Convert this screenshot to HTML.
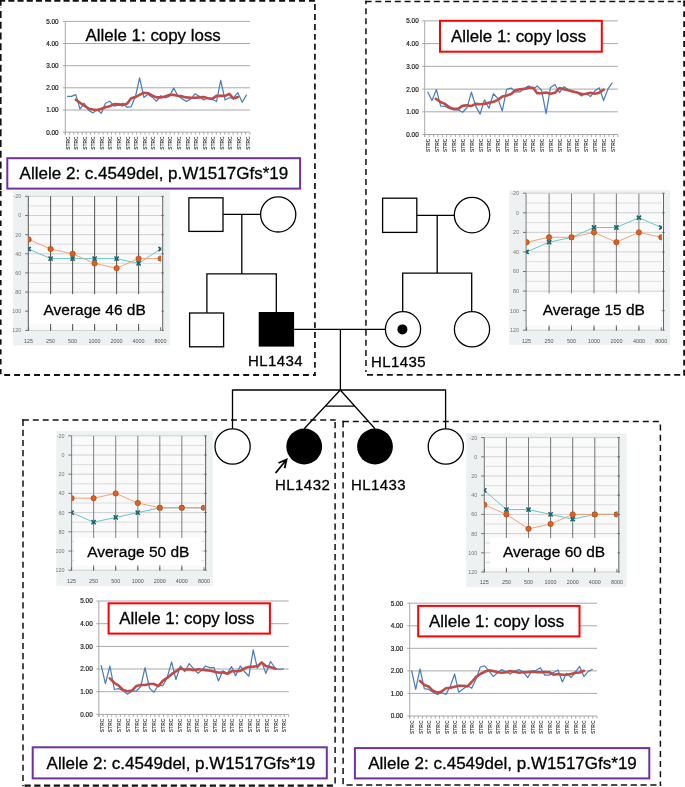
<!DOCTYPE html>
<html><head><meta charset="utf-8"><title>Pedigree</title>
<style>html,body{margin:0;padding:0;background:#fff;}svg{display:block;}</style></head><body>
<svg width="685" height="787" viewBox="0 0 685 787" style="will-change:transform">
<rect width="685" height="787" fill="#fff"/>
<g>
<rect x="13.1" y="191.2" width="156.8" height="154.4" fill="#eef1f2"/>
<rect x="28.3" y="196.2" width="134.4" height="134.0" fill="#fafafa"/>
<line x1="28.3" y1="196.3" x2="161.1" y2="196.3" stroke="#cfcfcf" stroke-width="1"/>
<line x1="28.3" y1="205.9" x2="161.1" y2="205.9" stroke="#dcdcdc" stroke-width="1"/>
<line x1="28.3" y1="215.5" x2="161.1" y2="215.5" stroke="#cfcfcf" stroke-width="1"/>
<line x1="28.3" y1="225.1" x2="161.1" y2="225.1" stroke="#dcdcdc" stroke-width="1"/>
<line x1="28.3" y1="234.7" x2="161.1" y2="234.7" stroke="#cfcfcf" stroke-width="1"/>
<line x1="28.3" y1="244.2" x2="161.1" y2="244.2" stroke="#dcdcdc" stroke-width="1"/>
<line x1="28.3" y1="253.8" x2="161.1" y2="253.8" stroke="#cfcfcf" stroke-width="1"/>
<line x1="28.3" y1="263.4" x2="161.1" y2="263.4" stroke="#dcdcdc" stroke-width="1"/>
<line x1="28.3" y1="272.9" x2="161.1" y2="272.9" stroke="#cfcfcf" stroke-width="1"/>
<line x1="28.3" y1="282.5" x2="161.1" y2="282.5" stroke="#dcdcdc" stroke-width="1"/>
<line x1="28.3" y1="292.1" x2="161.1" y2="292.1" stroke="#cfcfcf" stroke-width="1"/>
<line x1="28.3" y1="301.7" x2="161.1" y2="301.7" stroke="#dcdcdc" stroke-width="1"/>
<line x1="28.3" y1="311.2" x2="161.1" y2="311.2" stroke="#cfcfcf" stroke-width="1"/>
<line x1="28.3" y1="320.8" x2="161.1" y2="320.8" stroke="#dcdcdc" stroke-width="1"/>
<line x1="28.3" y1="330.4" x2="161.1" y2="330.4" stroke="#cfcfcf" stroke-width="1"/>
<line x1="28.3" y1="196.2" x2="28.3" y2="330.2" stroke="#5c5c5c" stroke-width="1.05"/>
<line x1="50.6" y1="196.2" x2="50.6" y2="330.2" stroke="#5c5c5c" stroke-width="1.05"/>
<line x1="72.6" y1="196.2" x2="72.6" y2="330.2" stroke="#5c5c5c" stroke-width="1.05"/>
<line x1="94.6" y1="196.2" x2="94.6" y2="330.2" stroke="#5c5c5c" stroke-width="1.05"/>
<line x1="116.6" y1="196.2" x2="116.6" y2="330.2" stroke="#5c5c5c" stroke-width="1.05"/>
<line x1="138.6" y1="196.2" x2="138.6" y2="330.2" stroke="#5c5c5c" stroke-width="1.05"/>
<line x1="162.7" y1="196.2" x2="162.7" y2="330.2" stroke="#666" stroke-width="1.05"/>
<line x1="25.1" y1="196.3" x2="28.3" y2="196.3" stroke="#555" stroke-width="0.8"/>
<line x1="161.2" y1="196.3" x2="163.9" y2="196.3" stroke="#555" stroke-width="0.8"/>
<text x="21.3" y="198.2" text-anchor="end" font-family="Liberation Sans, sans-serif" font-size="5.4" fill="#777">-20</text>
<line x1="25.1" y1="215.5" x2="28.3" y2="215.5" stroke="#555" stroke-width="0.8"/>
<line x1="161.2" y1="215.5" x2="163.9" y2="215.5" stroke="#555" stroke-width="0.8"/>
<text x="21.3" y="217.4" text-anchor="end" font-family="Liberation Sans, sans-serif" font-size="5.4" fill="#777">0</text>
<line x1="25.1" y1="234.7" x2="28.3" y2="234.7" stroke="#555" stroke-width="0.8"/>
<line x1="161.2" y1="234.7" x2="163.9" y2="234.7" stroke="#555" stroke-width="0.8"/>
<text x="21.3" y="236.6" text-anchor="end" font-family="Liberation Sans, sans-serif" font-size="5.4" fill="#777">20</text>
<line x1="25.1" y1="253.8" x2="28.3" y2="253.8" stroke="#555" stroke-width="0.8"/>
<line x1="161.2" y1="253.8" x2="163.9" y2="253.8" stroke="#555" stroke-width="0.8"/>
<text x="21.3" y="255.7" text-anchor="end" font-family="Liberation Sans, sans-serif" font-size="5.4" fill="#777">40</text>
<line x1="25.1" y1="272.9" x2="28.3" y2="272.9" stroke="#555" stroke-width="0.8"/>
<line x1="161.2" y1="272.9" x2="163.9" y2="272.9" stroke="#555" stroke-width="0.8"/>
<text x="21.3" y="274.8" text-anchor="end" font-family="Liberation Sans, sans-serif" font-size="5.4" fill="#777">60</text>
<line x1="25.1" y1="292.1" x2="28.3" y2="292.1" stroke="#555" stroke-width="0.8"/>
<line x1="161.2" y1="292.1" x2="163.9" y2="292.1" stroke="#555" stroke-width="0.8"/>
<text x="21.3" y="294.0" text-anchor="end" font-family="Liberation Sans, sans-serif" font-size="5.4" fill="#777">80</text>
<line x1="25.1" y1="311.2" x2="28.3" y2="311.2" stroke="#555" stroke-width="0.8"/>
<line x1="161.2" y1="311.2" x2="163.9" y2="311.2" stroke="#555" stroke-width="0.8"/>
<text x="21.3" y="313.1" text-anchor="end" font-family="Liberation Sans, sans-serif" font-size="5.4" fill="#777">100</text>
<line x1="25.1" y1="330.4" x2="28.3" y2="330.4" stroke="#555" stroke-width="0.8"/>
<line x1="161.2" y1="330.4" x2="163.9" y2="330.4" stroke="#555" stroke-width="0.8"/>
<text x="21.3" y="332.3" text-anchor="end" font-family="Liberation Sans, sans-serif" font-size="5.4" fill="#777">120</text>
<clipPath id="clipa1"><rect x="28.3" y="196.2" width="132.9" height="134.0"/></clipPath>
<g clip-path="url(#clipa1)">
<polyline points="28.6,249.0 50.6,258.6 72.6,258.6 94.6,258.6 116.6,258.6 138.6,263.4 160.6,249.0" fill="none" stroke="#58c0c6" stroke-width="0.9"/>
<polyline points="28.6,239.4 50.6,249.0 72.6,253.8 94.6,263.4 116.6,268.2 138.6,258.6 160.6,258.6" fill="none" stroke="#eb9a70" stroke-width="0.9"/>
<path d="M26.5 246.9L30.7 251.1M30.7 246.9L26.5 251.1" stroke="#17626c" stroke-width="1.6" fill="none"/>
<rect x="27.3" y="247.7" width="2.6" height="2.6" fill="#1b6a74"/>
<path d="M48.5 256.5L52.7 260.7M52.7 256.5L48.5 260.7" stroke="#17626c" stroke-width="1.6" fill="none"/>
<rect x="49.3" y="257.3" width="2.6" height="2.6" fill="#1b6a74"/>
<path d="M70.5 256.5L74.7 260.7M74.7 256.5L70.5 260.7" stroke="#17626c" stroke-width="1.6" fill="none"/>
<rect x="71.3" y="257.3" width="2.6" height="2.6" fill="#1b6a74"/>
<path d="M92.5 256.5L96.7 260.7M96.7 256.5L92.5 260.7" stroke="#17626c" stroke-width="1.6" fill="none"/>
<rect x="93.3" y="257.3" width="2.6" height="2.6" fill="#1b6a74"/>
<path d="M114.5 256.5L118.7 260.7M118.7 256.5L114.5 260.7" stroke="#17626c" stroke-width="1.6" fill="none"/>
<rect x="115.3" y="257.3" width="2.6" height="2.6" fill="#1b6a74"/>
<path d="M136.5 261.3L140.7 265.5M140.7 261.3L136.5 265.5" stroke="#17626c" stroke-width="1.6" fill="none"/>
<rect x="137.3" y="262.1" width="2.6" height="2.6" fill="#1b6a74"/>
<path d="M158.5 246.9L162.7 251.1M162.7 246.9L158.5 251.1" stroke="#17626c" stroke-width="1.6" fill="none"/>
<rect x="159.3" y="247.7" width="2.6" height="2.6" fill="#1b6a74"/>
<circle cx="28.6" cy="239.4" r="2.7" fill="#e2601a" stroke="#8a3a0c" stroke-width="0.5"/>
<circle cx="50.6" cy="249.0" r="2.7" fill="#e2601a" stroke="#8a3a0c" stroke-width="0.5"/>
<circle cx="72.6" cy="253.8" r="2.7" fill="#e2601a" stroke="#8a3a0c" stroke-width="0.5"/>
<circle cx="94.6" cy="263.4" r="2.7" fill="#e2601a" stroke="#8a3a0c" stroke-width="0.5"/>
<circle cx="116.6" cy="268.2" r="2.7" fill="#e2601a" stroke="#8a3a0c" stroke-width="0.5"/>
<circle cx="138.6" cy="258.6" r="2.7" fill="#e2601a" stroke="#8a3a0c" stroke-width="0.5"/>
<circle cx="160.6" cy="258.6" r="2.7" fill="#e2601a" stroke="#8a3a0c" stroke-width="0.5"/>
</g>
<rect x="29.0" y="294.2" width="132.4" height="29.8" fill="#fff"/>
<line x1="28.6" y1="327.2" x2="28.6" y2="330.7" stroke="#555" stroke-width="0.8"/>
<line x1="50.6" y1="327.2" x2="50.6" y2="330.7" stroke="#555" stroke-width="0.8"/>
<line x1="72.6" y1="327.2" x2="72.6" y2="330.7" stroke="#555" stroke-width="0.8"/>
<line x1="94.6" y1="327.2" x2="94.6" y2="330.7" stroke="#555" stroke-width="0.8"/>
<line x1="116.6" y1="327.2" x2="116.6" y2="330.7" stroke="#555" stroke-width="0.8"/>
<line x1="138.6" y1="327.2" x2="138.6" y2="330.7" stroke="#555" stroke-width="0.8"/>
<line x1="160.6" y1="327.2" x2="160.6" y2="330.7" stroke="#555" stroke-width="0.8"/>
<text x="28.6" y="343.1" text-anchor="middle" font-family="Liberation Sans, sans-serif" font-size="5.4" fill="#555">125</text>
<text x="50.6" y="343.1" text-anchor="middle" font-family="Liberation Sans, sans-serif" font-size="5.4" fill="#555">250</text>
<text x="72.6" y="343.1" text-anchor="middle" font-family="Liberation Sans, sans-serif" font-size="5.4" fill="#555">500</text>
<text x="94.6" y="343.1" text-anchor="middle" font-family="Liberation Sans, sans-serif" font-size="5.4" fill="#555">1000</text>
<text x="116.6" y="343.1" text-anchor="middle" font-family="Liberation Sans, sans-serif" font-size="5.4" fill="#555">2000</text>
<text x="138.6" y="343.1" text-anchor="middle" font-family="Liberation Sans, sans-serif" font-size="5.4" fill="#555">4000</text>
<text x="160.6" y="343.1" text-anchor="middle" font-family="Liberation Sans, sans-serif" font-size="5.4" fill="#555">8000</text>
<text x="43.5" y="314.6" font-family="Liberation Sans, sans-serif" font-size="15.5" fill="#000" stroke="#000" stroke-width="0.28">Average 46 dB</text>
</g>
<g>
<rect x="508.9" y="190.2" width="161.2" height="154.8" fill="#eef1f2"/>
<rect x="526.1" y="193.4" width="137.4" height="136.8" fill="#fafafa"/>
<line x1="526.1" y1="193.2" x2="661.8" y2="193.2" stroke="#cfcfcf" stroke-width="1"/>
<line x1="526.1" y1="203.0" x2="661.8" y2="203.0" stroke="#dcdcdc" stroke-width="1"/>
<line x1="526.1" y1="212.8" x2="661.8" y2="212.8" stroke="#cfcfcf" stroke-width="1"/>
<line x1="526.1" y1="222.6" x2="661.8" y2="222.6" stroke="#dcdcdc" stroke-width="1"/>
<line x1="526.1" y1="232.4" x2="661.8" y2="232.4" stroke="#cfcfcf" stroke-width="1"/>
<line x1="526.1" y1="242.2" x2="661.8" y2="242.2" stroke="#dcdcdc" stroke-width="1"/>
<line x1="526.1" y1="251.9" x2="661.8" y2="251.9" stroke="#cfcfcf" stroke-width="1"/>
<line x1="526.1" y1="261.7" x2="661.8" y2="261.7" stroke="#dcdcdc" stroke-width="1"/>
<line x1="526.1" y1="271.5" x2="661.8" y2="271.5" stroke="#cfcfcf" stroke-width="1"/>
<line x1="526.1" y1="281.3" x2="661.8" y2="281.3" stroke="#dcdcdc" stroke-width="1"/>
<line x1="526.1" y1="291.1" x2="661.8" y2="291.1" stroke="#cfcfcf" stroke-width="1"/>
<line x1="526.1" y1="300.9" x2="661.8" y2="300.9" stroke="#dcdcdc" stroke-width="1"/>
<line x1="526.1" y1="310.7" x2="661.8" y2="310.7" stroke="#cfcfcf" stroke-width="1"/>
<line x1="526.1" y1="320.4" x2="661.8" y2="320.4" stroke="#dcdcdc" stroke-width="1"/>
<line x1="526.1" y1="330.2" x2="661.8" y2="330.2" stroke="#cfcfcf" stroke-width="1"/>
<line x1="526.1" y1="193.4" x2="526.1" y2="330.2" stroke="#828282" stroke-width="1.05"/>
<line x1="549.1" y1="193.4" x2="549.1" y2="330.2" stroke="#828282" stroke-width="1.05"/>
<line x1="571.5" y1="193.4" x2="571.5" y2="330.2" stroke="#828282" stroke-width="1.05"/>
<line x1="594.0" y1="193.4" x2="594.0" y2="330.2" stroke="#828282" stroke-width="1.05"/>
<line x1="616.4" y1="193.4" x2="616.4" y2="330.2" stroke="#828282" stroke-width="1.05"/>
<line x1="638.9" y1="193.4" x2="638.9" y2="330.2" stroke="#828282" stroke-width="1.05"/>
<line x1="663.5" y1="193.4" x2="663.5" y2="330.2" stroke="#666" stroke-width="1.05"/>
<line x1="522.9" y1="193.2" x2="526.1" y2="193.2" stroke="#555" stroke-width="0.8"/>
<line x1="662.0" y1="193.2" x2="664.7" y2="193.2" stroke="#555" stroke-width="0.8"/>
<text x="519.1" y="195.1" text-anchor="end" font-family="Liberation Sans, sans-serif" font-size="5.4" fill="#777">-20</text>
<line x1="522.9" y1="212.8" x2="526.1" y2="212.8" stroke="#555" stroke-width="0.8"/>
<line x1="662.0" y1="212.8" x2="664.7" y2="212.8" stroke="#555" stroke-width="0.8"/>
<text x="519.1" y="214.7" text-anchor="end" font-family="Liberation Sans, sans-serif" font-size="5.4" fill="#777">0</text>
<line x1="522.9" y1="232.4" x2="526.1" y2="232.4" stroke="#555" stroke-width="0.8"/>
<line x1="662.0" y1="232.4" x2="664.7" y2="232.4" stroke="#555" stroke-width="0.8"/>
<text x="519.1" y="234.3" text-anchor="end" font-family="Liberation Sans, sans-serif" font-size="5.4" fill="#777">20</text>
<line x1="522.9" y1="251.9" x2="526.1" y2="251.9" stroke="#555" stroke-width="0.8"/>
<line x1="662.0" y1="251.9" x2="664.7" y2="251.9" stroke="#555" stroke-width="0.8"/>
<text x="519.1" y="253.8" text-anchor="end" font-family="Liberation Sans, sans-serif" font-size="5.4" fill="#777">40</text>
<line x1="522.9" y1="271.5" x2="526.1" y2="271.5" stroke="#555" stroke-width="0.8"/>
<line x1="662.0" y1="271.5" x2="664.7" y2="271.5" stroke="#555" stroke-width="0.8"/>
<text x="519.1" y="273.4" text-anchor="end" font-family="Liberation Sans, sans-serif" font-size="5.4" fill="#777">60</text>
<line x1="522.9" y1="291.1" x2="526.1" y2="291.1" stroke="#555" stroke-width="0.8"/>
<line x1="662.0" y1="291.1" x2="664.7" y2="291.1" stroke="#555" stroke-width="0.8"/>
<text x="519.1" y="293.0" text-anchor="end" font-family="Liberation Sans, sans-serif" font-size="5.4" fill="#777">80</text>
<line x1="522.9" y1="310.7" x2="526.1" y2="310.7" stroke="#555" stroke-width="0.8"/>
<line x1="662.0" y1="310.7" x2="664.7" y2="310.7" stroke="#555" stroke-width="0.8"/>
<text x="519.1" y="312.6" text-anchor="end" font-family="Liberation Sans, sans-serif" font-size="5.4" fill="#777">100</text>
<line x1="522.9" y1="330.2" x2="526.1" y2="330.2" stroke="#555" stroke-width="0.8"/>
<line x1="662.0" y1="330.2" x2="664.7" y2="330.2" stroke="#555" stroke-width="0.8"/>
<text x="519.1" y="332.1" text-anchor="end" font-family="Liberation Sans, sans-serif" font-size="5.4" fill="#777">120</text>
<clipPath id="clipa2"><rect x="526.1" y="193.4" width="135.8" height="136.8"/></clipPath>
<g clip-path="url(#clipa2)">
<polyline points="526.6,251.9 549.1,242.2 571.5,237.3 594.0,227.5 616.4,227.5 638.9,217.7 661.3,227.5" fill="none" stroke="#58c0c6" stroke-width="0.9"/>
<polyline points="526.6,242.2 549.1,237.3 571.5,237.3 594.0,232.4 616.4,242.2 638.9,232.4 661.3,237.3" fill="none" stroke="#eb9a70" stroke-width="0.9"/>
<path d="M524.5 249.8L528.7 254.0M528.7 249.8L524.5 254.0" stroke="#17626c" stroke-width="1.6" fill="none"/>
<rect x="525.3" y="250.6" width="2.6" height="2.6" fill="#1b6a74"/>
<path d="M547.0 240.1L551.2 244.3M551.2 240.1L547.0 244.3" stroke="#17626c" stroke-width="1.6" fill="none"/>
<rect x="547.8" y="240.9" width="2.6" height="2.6" fill="#1b6a74"/>
<path d="M569.4 235.2L573.6 239.4M573.6 235.2L569.4 239.4" stroke="#17626c" stroke-width="1.6" fill="none"/>
<rect x="570.2" y="236.0" width="2.6" height="2.6" fill="#1b6a74"/>
<path d="M591.9 225.4L596.1 229.6M596.1 225.4L591.9 229.6" stroke="#17626c" stroke-width="1.6" fill="none"/>
<rect x="592.7" y="226.2" width="2.6" height="2.6" fill="#1b6a74"/>
<path d="M614.3 225.4L618.5 229.6M618.5 225.4L614.3 229.6" stroke="#17626c" stroke-width="1.6" fill="none"/>
<rect x="615.1" y="226.2" width="2.6" height="2.6" fill="#1b6a74"/>
<path d="M636.8 215.6L641.0 219.8M641.0 215.6L636.8 219.8" stroke="#17626c" stroke-width="1.6" fill="none"/>
<rect x="637.6" y="216.4" width="2.6" height="2.6" fill="#1b6a74"/>
<path d="M659.2 225.4L663.4 229.6M663.4 225.4L659.2 229.6" stroke="#17626c" stroke-width="1.6" fill="none"/>
<rect x="660.0" y="226.2" width="2.6" height="2.6" fill="#1b6a74"/>
<circle cx="526.6" cy="242.2" r="2.7" fill="#e2601a" stroke="#8a3a0c" stroke-width="0.5"/>
<circle cx="549.1" cy="237.3" r="2.7" fill="#e2601a" stroke="#8a3a0c" stroke-width="0.5"/>
<circle cx="571.5" cy="237.3" r="2.7" fill="#e2601a" stroke="#8a3a0c" stroke-width="0.5"/>
<circle cx="594.0" cy="232.4" r="2.7" fill="#e2601a" stroke="#8a3a0c" stroke-width="0.5"/>
<circle cx="616.4" cy="242.2" r="2.7" fill="#e2601a" stroke="#8a3a0c" stroke-width="0.5"/>
<circle cx="638.9" cy="232.4" r="2.7" fill="#e2601a" stroke="#8a3a0c" stroke-width="0.5"/>
<circle cx="661.3" cy="237.3" r="2.7" fill="#e2601a" stroke="#8a3a0c" stroke-width="0.5"/>
</g>
<rect x="527.0" y="293.5" width="134.3" height="31.7" fill="#fff"/>
<line x1="526.6" y1="327.2" x2="526.6" y2="330.7" stroke="#555" stroke-width="0.8"/>
<line x1="549.1" y1="327.2" x2="549.1" y2="330.7" stroke="#555" stroke-width="0.8"/>
<line x1="571.5" y1="327.2" x2="571.5" y2="330.7" stroke="#555" stroke-width="0.8"/>
<line x1="594.0" y1="327.2" x2="594.0" y2="330.7" stroke="#555" stroke-width="0.8"/>
<line x1="616.4" y1="327.2" x2="616.4" y2="330.7" stroke="#555" stroke-width="0.8"/>
<line x1="638.9" y1="327.2" x2="638.9" y2="330.7" stroke="#555" stroke-width="0.8"/>
<line x1="661.3" y1="327.2" x2="661.3" y2="330.7" stroke="#555" stroke-width="0.8"/>
<text x="526.6" y="342.8" text-anchor="middle" font-family="Liberation Sans, sans-serif" font-size="5.4" fill="#555">125</text>
<text x="549.1" y="342.8" text-anchor="middle" font-family="Liberation Sans, sans-serif" font-size="5.4" fill="#555">250</text>
<text x="571.5" y="342.8" text-anchor="middle" font-family="Liberation Sans, sans-serif" font-size="5.4" fill="#555">500</text>
<text x="594.0" y="342.8" text-anchor="middle" font-family="Liberation Sans, sans-serif" font-size="5.4" fill="#555">1000</text>
<text x="616.4" y="342.8" text-anchor="middle" font-family="Liberation Sans, sans-serif" font-size="5.4" fill="#555">2000</text>
<text x="638.9" y="342.8" text-anchor="middle" font-family="Liberation Sans, sans-serif" font-size="5.4" fill="#555">4000</text>
<text x="661.3" y="342.8" text-anchor="middle" font-family="Liberation Sans, sans-serif" font-size="5.4" fill="#555">8000</text>
<text x="542.7" y="314.8" font-family="Liberation Sans, sans-serif" font-size="15.5" fill="#000" stroke="#000" stroke-width="0.28">Average 15 dB</text>
</g>
<g>
<rect x="56.2" y="431.0" width="156.5" height="155.1" fill="#eef1f2"/>
<rect x="71.6" y="435.7" width="134.0" height="134.5" fill="#fafafa"/>
<line x1="71.6" y1="435.8" x2="204.4" y2="435.8" stroke="#cfcfcf" stroke-width="1"/>
<line x1="71.6" y1="445.4" x2="204.4" y2="445.4" stroke="#dcdcdc" stroke-width="1"/>
<line x1="71.6" y1="455.0" x2="204.4" y2="455.0" stroke="#cfcfcf" stroke-width="1"/>
<line x1="71.6" y1="464.6" x2="204.4" y2="464.6" stroke="#dcdcdc" stroke-width="1"/>
<line x1="71.6" y1="474.2" x2="204.4" y2="474.2" stroke="#cfcfcf" stroke-width="1"/>
<line x1="71.6" y1="483.8" x2="204.4" y2="483.8" stroke="#dcdcdc" stroke-width="1"/>
<line x1="71.6" y1="493.4" x2="204.4" y2="493.4" stroke="#cfcfcf" stroke-width="1"/>
<line x1="71.6" y1="503.0" x2="204.4" y2="503.0" stroke="#dcdcdc" stroke-width="1"/>
<line x1="71.6" y1="512.6" x2="204.4" y2="512.6" stroke="#cfcfcf" stroke-width="1"/>
<line x1="71.6" y1="522.2" x2="204.4" y2="522.2" stroke="#dcdcdc" stroke-width="1"/>
<line x1="71.6" y1="531.8" x2="204.4" y2="531.8" stroke="#cfcfcf" stroke-width="1"/>
<line x1="71.6" y1="541.4" x2="204.4" y2="541.4" stroke="#dcdcdc" stroke-width="1"/>
<line x1="71.6" y1="551.0" x2="204.4" y2="551.0" stroke="#cfcfcf" stroke-width="1"/>
<line x1="71.6" y1="560.6" x2="204.4" y2="560.6" stroke="#dcdcdc" stroke-width="1"/>
<line x1="71.6" y1="570.2" x2="204.4" y2="570.2" stroke="#cfcfcf" stroke-width="1"/>
<line x1="71.6" y1="435.7" x2="71.6" y2="570.2" stroke="#858585" stroke-width="1.05"/>
<line x1="93.6" y1="435.7" x2="93.6" y2="570.2" stroke="#858585" stroke-width="1.05"/>
<line x1="115.7" y1="435.7" x2="115.7" y2="570.2" stroke="#858585" stroke-width="1.05"/>
<line x1="137.8" y1="435.7" x2="137.8" y2="570.2" stroke="#858585" stroke-width="1.05"/>
<line x1="159.8" y1="435.7" x2="159.8" y2="570.2" stroke="#858585" stroke-width="1.05"/>
<line x1="181.8" y1="435.7" x2="181.8" y2="570.2" stroke="#858585" stroke-width="1.05"/>
<line x1="205.6" y1="435.7" x2="205.6" y2="570.2" stroke="#666" stroke-width="1.05"/>
<line x1="68.4" y1="435.8" x2="71.6" y2="435.8" stroke="#555" stroke-width="0.8"/>
<line x1="204.1" y1="435.8" x2="206.8" y2="435.8" stroke="#555" stroke-width="0.8"/>
<text x="64.6" y="437.7" text-anchor="end" font-family="Liberation Sans, sans-serif" font-size="5.4" fill="#777">-20</text>
<line x1="68.4" y1="455.0" x2="71.6" y2="455.0" stroke="#555" stroke-width="0.8"/>
<line x1="204.1" y1="455.0" x2="206.8" y2="455.0" stroke="#555" stroke-width="0.8"/>
<text x="64.6" y="456.9" text-anchor="end" font-family="Liberation Sans, sans-serif" font-size="5.4" fill="#777">0</text>
<line x1="68.4" y1="474.2" x2="71.6" y2="474.2" stroke="#555" stroke-width="0.8"/>
<line x1="204.1" y1="474.2" x2="206.8" y2="474.2" stroke="#555" stroke-width="0.8"/>
<text x="64.6" y="476.1" text-anchor="end" font-family="Liberation Sans, sans-serif" font-size="5.4" fill="#777">20</text>
<line x1="68.4" y1="493.4" x2="71.6" y2="493.4" stroke="#555" stroke-width="0.8"/>
<line x1="204.1" y1="493.4" x2="206.8" y2="493.4" stroke="#555" stroke-width="0.8"/>
<text x="64.6" y="495.3" text-anchor="end" font-family="Liberation Sans, sans-serif" font-size="5.4" fill="#777">40</text>
<line x1="68.4" y1="512.6" x2="71.6" y2="512.6" stroke="#555" stroke-width="0.8"/>
<line x1="204.1" y1="512.6" x2="206.8" y2="512.6" stroke="#555" stroke-width="0.8"/>
<text x="64.6" y="514.5" text-anchor="end" font-family="Liberation Sans, sans-serif" font-size="5.4" fill="#777">60</text>
<line x1="68.4" y1="531.8" x2="71.6" y2="531.8" stroke="#555" stroke-width="0.8"/>
<line x1="204.1" y1="531.8" x2="206.8" y2="531.8" stroke="#555" stroke-width="0.8"/>
<text x="64.6" y="533.7" text-anchor="end" font-family="Liberation Sans, sans-serif" font-size="5.4" fill="#777">80</text>
<line x1="68.4" y1="551.0" x2="71.6" y2="551.0" stroke="#555" stroke-width="0.8"/>
<line x1="204.1" y1="551.0" x2="206.8" y2="551.0" stroke="#555" stroke-width="0.8"/>
<text x="64.6" y="552.9" text-anchor="end" font-family="Liberation Sans, sans-serif" font-size="5.4" fill="#777">100</text>
<line x1="68.4" y1="570.2" x2="71.6" y2="570.2" stroke="#555" stroke-width="0.8"/>
<line x1="204.1" y1="570.2" x2="206.8" y2="570.2" stroke="#555" stroke-width="0.8"/>
<text x="64.6" y="572.1" text-anchor="end" font-family="Liberation Sans, sans-serif" font-size="5.4" fill="#777">120</text>
<clipPath id="clipa3"><rect x="71.6" y="435.7" width="132.9" height="134.5"/></clipPath>
<g clip-path="url(#clipa3)">
<polyline points="71.6,512.6 93.6,522.2 115.7,517.4 137.8,512.6 159.8,507.8 181.8,507.8 203.9,507.8" fill="none" stroke="#58c0c6" stroke-width="0.9"/>
<polyline points="71.6,498.2 93.6,498.2 115.7,493.4 137.8,503.0 159.8,507.8 181.8,507.8 203.9,507.8" fill="none" stroke="#eb9a70" stroke-width="0.9"/>
<path d="M69.5 510.5L73.7 514.7M73.7 510.5L69.5 514.7" stroke="#17626c" stroke-width="1.6" fill="none"/>
<rect x="70.3" y="511.3" width="2.6" height="2.6" fill="#1b6a74"/>
<path d="M91.5 520.1L95.7 524.3M95.7 520.1L91.5 524.3" stroke="#17626c" stroke-width="1.6" fill="none"/>
<rect x="92.3" y="520.9" width="2.6" height="2.6" fill="#1b6a74"/>
<path d="M113.6 515.3L117.8 519.5M117.8 515.3L113.6 519.5" stroke="#17626c" stroke-width="1.6" fill="none"/>
<rect x="114.4" y="516.1" width="2.6" height="2.6" fill="#1b6a74"/>
<path d="M135.7 510.5L139.8 514.7M139.8 510.5L135.7 514.7" stroke="#17626c" stroke-width="1.6" fill="none"/>
<rect x="136.4" y="511.3" width="2.6" height="2.6" fill="#1b6a74"/>
<path d="M157.7 505.7L161.9 509.9M161.9 505.7L157.7 509.9" stroke="#17626c" stroke-width="1.6" fill="none"/>
<rect x="158.5" y="506.5" width="2.6" height="2.6" fill="#1b6a74"/>
<path d="M179.8 505.7L183.9 509.9M183.9 505.7L179.8 509.9" stroke="#17626c" stroke-width="1.6" fill="none"/>
<rect x="180.5" y="506.5" width="2.6" height="2.6" fill="#1b6a74"/>
<path d="M201.8 505.7L206.0 509.9M206.0 505.7L201.8 509.9" stroke="#17626c" stroke-width="1.6" fill="none"/>
<rect x="202.6" y="506.5" width="2.6" height="2.6" fill="#1b6a74"/>
<circle cx="71.6" cy="498.2" r="2.7" fill="#e2601a" stroke="#8a3a0c" stroke-width="0.5"/>
<circle cx="93.6" cy="498.2" r="2.7" fill="#e2601a" stroke="#8a3a0c" stroke-width="0.5"/>
<circle cx="115.7" cy="493.4" r="2.7" fill="#e2601a" stroke="#8a3a0c" stroke-width="0.5"/>
<circle cx="137.8" cy="503.0" r="2.7" fill="#e2601a" stroke="#8a3a0c" stroke-width="0.5"/>
<circle cx="159.8" cy="507.8" r="2.7" fill="#e2601a" stroke="#8a3a0c" stroke-width="0.5"/>
<circle cx="181.8" cy="507.8" r="2.7" fill="#e2601a" stroke="#8a3a0c" stroke-width="0.5"/>
<circle cx="203.9" cy="507.8" r="2.7" fill="#e2601a" stroke="#8a3a0c" stroke-width="0.5"/>
</g>
<rect x="74.1" y="537.9" width="127.3" height="27.3" fill="#fff"/>
<line x1="71.6" y1="567.2" x2="71.6" y2="570.7" stroke="#555" stroke-width="0.8"/>
<line x1="93.6" y1="567.2" x2="93.6" y2="570.7" stroke="#555" stroke-width="0.8"/>
<line x1="115.7" y1="567.2" x2="115.7" y2="570.7" stroke="#555" stroke-width="0.8"/>
<line x1="137.8" y1="567.2" x2="137.8" y2="570.7" stroke="#555" stroke-width="0.8"/>
<line x1="159.8" y1="567.2" x2="159.8" y2="570.7" stroke="#555" stroke-width="0.8"/>
<line x1="181.8" y1="567.2" x2="181.8" y2="570.7" stroke="#555" stroke-width="0.8"/>
<line x1="203.9" y1="567.2" x2="203.9" y2="570.7" stroke="#555" stroke-width="0.8"/>
<text x="71.6" y="583.2" text-anchor="middle" font-family="Liberation Sans, sans-serif" font-size="5.4" fill="#555">125</text>
<text x="93.6" y="583.2" text-anchor="middle" font-family="Liberation Sans, sans-serif" font-size="5.4" fill="#555">250</text>
<text x="115.7" y="583.2" text-anchor="middle" font-family="Liberation Sans, sans-serif" font-size="5.4" fill="#555">500</text>
<text x="137.8" y="583.2" text-anchor="middle" font-family="Liberation Sans, sans-serif" font-size="5.4" fill="#555">1000</text>
<text x="159.8" y="583.2" text-anchor="middle" font-family="Liberation Sans, sans-serif" font-size="5.4" fill="#555">2000</text>
<text x="181.8" y="583.2" text-anchor="middle" font-family="Liberation Sans, sans-serif" font-size="5.4" fill="#555">4000</text>
<text x="203.9" y="583.2" text-anchor="middle" font-family="Liberation Sans, sans-serif" font-size="5.4" fill="#555">8000</text>
<text x="87.2" y="556.5" font-family="Liberation Sans, sans-serif" font-size="15.5" fill="#000" stroke="#000" stroke-width="0.28">Average 50 dB</text>
</g>
<g>
<rect x="466.2" y="433.2" width="160.3" height="153.8" fill="#eef1f2"/>
<rect x="484.3" y="437.4" width="134.5" height="134.5" fill="#fafafa"/>
<line x1="484.3" y1="437.6" x2="617.4" y2="437.6" stroke="#cfcfcf" stroke-width="1"/>
<line x1="484.3" y1="447.2" x2="617.4" y2="447.2" stroke="#dcdcdc" stroke-width="1"/>
<line x1="484.3" y1="456.8" x2="617.4" y2="456.8" stroke="#cfcfcf" stroke-width="1"/>
<line x1="484.3" y1="466.4" x2="617.4" y2="466.4" stroke="#dcdcdc" stroke-width="1"/>
<line x1="484.3" y1="476.0" x2="617.4" y2="476.0" stroke="#cfcfcf" stroke-width="1"/>
<line x1="484.3" y1="485.6" x2="617.4" y2="485.6" stroke="#dcdcdc" stroke-width="1"/>
<line x1="484.3" y1="495.2" x2="617.4" y2="495.2" stroke="#cfcfcf" stroke-width="1"/>
<line x1="484.3" y1="504.8" x2="617.4" y2="504.8" stroke="#dcdcdc" stroke-width="1"/>
<line x1="484.3" y1="514.4" x2="617.4" y2="514.4" stroke="#cfcfcf" stroke-width="1"/>
<line x1="484.3" y1="524.0" x2="617.4" y2="524.0" stroke="#dcdcdc" stroke-width="1"/>
<line x1="484.3" y1="533.6" x2="617.4" y2="533.6" stroke="#cfcfcf" stroke-width="1"/>
<line x1="484.3" y1="543.2" x2="617.4" y2="543.2" stroke="#dcdcdc" stroke-width="1"/>
<line x1="484.3" y1="552.8" x2="617.4" y2="552.8" stroke="#cfcfcf" stroke-width="1"/>
<line x1="484.3" y1="562.4" x2="617.4" y2="562.4" stroke="#dcdcdc" stroke-width="1"/>
<line x1="484.3" y1="572.0" x2="617.4" y2="572.0" stroke="#cfcfcf" stroke-width="1"/>
<line x1="484.3" y1="437.4" x2="484.3" y2="571.9" stroke="#7a7a7a" stroke-width="1.05"/>
<line x1="506.4" y1="437.4" x2="506.4" y2="571.9" stroke="#7a7a7a" stroke-width="1.05"/>
<line x1="528.5" y1="437.4" x2="528.5" y2="571.9" stroke="#7a7a7a" stroke-width="1.05"/>
<line x1="550.6" y1="437.4" x2="550.6" y2="571.9" stroke="#7a7a7a" stroke-width="1.05"/>
<line x1="572.7" y1="437.4" x2="572.7" y2="571.9" stroke="#7a7a7a" stroke-width="1.05"/>
<line x1="594.8" y1="437.4" x2="594.8" y2="571.9" stroke="#7a7a7a" stroke-width="1.05"/>
<line x1="618.8" y1="437.4" x2="618.8" y2="571.9" stroke="#666" stroke-width="1.05"/>
<line x1="481.1" y1="437.6" x2="484.3" y2="437.6" stroke="#555" stroke-width="0.8"/>
<line x1="617.3" y1="437.6" x2="620.0" y2="437.6" stroke="#555" stroke-width="0.8"/>
<text x="477.3" y="439.5" text-anchor="end" font-family="Liberation Sans, sans-serif" font-size="5.4" fill="#777">-20</text>
<line x1="481.1" y1="456.8" x2="484.3" y2="456.8" stroke="#555" stroke-width="0.8"/>
<line x1="617.3" y1="456.8" x2="620.0" y2="456.8" stroke="#555" stroke-width="0.8"/>
<text x="477.3" y="458.7" text-anchor="end" font-family="Liberation Sans, sans-serif" font-size="5.4" fill="#777">0</text>
<line x1="481.1" y1="476.0" x2="484.3" y2="476.0" stroke="#555" stroke-width="0.8"/>
<line x1="617.3" y1="476.0" x2="620.0" y2="476.0" stroke="#555" stroke-width="0.8"/>
<text x="477.3" y="477.9" text-anchor="end" font-family="Liberation Sans, sans-serif" font-size="5.4" fill="#777">20</text>
<line x1="481.1" y1="495.2" x2="484.3" y2="495.2" stroke="#555" stroke-width="0.8"/>
<line x1="617.3" y1="495.2" x2="620.0" y2="495.2" stroke="#555" stroke-width="0.8"/>
<text x="477.3" y="497.1" text-anchor="end" font-family="Liberation Sans, sans-serif" font-size="5.4" fill="#777">40</text>
<line x1="481.1" y1="514.4" x2="484.3" y2="514.4" stroke="#555" stroke-width="0.8"/>
<line x1="617.3" y1="514.4" x2="620.0" y2="514.4" stroke="#555" stroke-width="0.8"/>
<text x="477.3" y="516.3" text-anchor="end" font-family="Liberation Sans, sans-serif" font-size="5.4" fill="#777">60</text>
<line x1="481.1" y1="533.6" x2="484.3" y2="533.6" stroke="#555" stroke-width="0.8"/>
<line x1="617.3" y1="533.6" x2="620.0" y2="533.6" stroke="#555" stroke-width="0.8"/>
<text x="477.3" y="535.5" text-anchor="end" font-family="Liberation Sans, sans-serif" font-size="5.4" fill="#777">80</text>
<line x1="481.1" y1="552.8" x2="484.3" y2="552.8" stroke="#555" stroke-width="0.8"/>
<line x1="617.3" y1="552.8" x2="620.0" y2="552.8" stroke="#555" stroke-width="0.8"/>
<text x="477.3" y="554.7" text-anchor="end" font-family="Liberation Sans, sans-serif" font-size="5.4" fill="#777">100</text>
<line x1="481.1" y1="572.0" x2="484.3" y2="572.0" stroke="#555" stroke-width="0.8"/>
<line x1="617.3" y1="572.0" x2="620.0" y2="572.0" stroke="#555" stroke-width="0.8"/>
<text x="477.3" y="573.9" text-anchor="end" font-family="Liberation Sans, sans-serif" font-size="5.4" fill="#777">120</text>
<clipPath id="clipa4"><rect x="484.3" y="437.4" width="133.2" height="134.5"/></clipPath>
<g clip-path="url(#clipa4)">
<polyline points="484.3,490.4 506.4,509.6 528.5,509.6 550.6,514.4 572.7,519.2 594.8,514.4 616.9,514.4" fill="none" stroke="#58c0c6" stroke-width="0.9"/>
<polyline points="484.3,504.8 506.4,514.4 528.5,528.8 550.6,524.0 572.7,514.4 594.8,514.4 616.9,514.4" fill="none" stroke="#eb9a70" stroke-width="0.9"/>
<path d="M482.2 488.3L486.4 492.5M486.4 488.3L482.2 492.5" stroke="#17626c" stroke-width="1.6" fill="none"/>
<rect x="483.0" y="489.1" width="2.6" height="2.6" fill="#1b6a74"/>
<path d="M504.3 507.5L508.5 511.7M508.5 507.5L504.3 511.7" stroke="#17626c" stroke-width="1.6" fill="none"/>
<rect x="505.1" y="508.3" width="2.6" height="2.6" fill="#1b6a74"/>
<path d="M526.4 507.5L530.6 511.7M530.6 507.5L526.4 511.7" stroke="#17626c" stroke-width="1.6" fill="none"/>
<rect x="527.2" y="508.3" width="2.6" height="2.6" fill="#1b6a74"/>
<path d="M548.5 512.3L552.7 516.5M552.7 512.3L548.5 516.5" stroke="#17626c" stroke-width="1.6" fill="none"/>
<rect x="549.3" y="513.1" width="2.6" height="2.6" fill="#1b6a74"/>
<path d="M570.6 517.1L574.8 521.3M574.8 517.1L570.6 521.3" stroke="#17626c" stroke-width="1.6" fill="none"/>
<rect x="571.4" y="517.9" width="2.6" height="2.6" fill="#1b6a74"/>
<path d="M592.7 512.3L596.9 516.5M596.9 512.3L592.7 516.5" stroke="#17626c" stroke-width="1.6" fill="none"/>
<rect x="593.5" y="513.1" width="2.6" height="2.6" fill="#1b6a74"/>
<path d="M614.8 512.3L619.0 516.5M619.0 512.3L614.8 516.5" stroke="#17626c" stroke-width="1.6" fill="none"/>
<rect x="615.6" y="513.1" width="2.6" height="2.6" fill="#1b6a74"/>
<circle cx="484.3" cy="504.8" r="2.7" fill="#e2601a" stroke="#8a3a0c" stroke-width="0.5"/>
<circle cx="506.4" cy="514.4" r="2.7" fill="#e2601a" stroke="#8a3a0c" stroke-width="0.5"/>
<circle cx="528.5" cy="528.8" r="2.7" fill="#e2601a" stroke="#8a3a0c" stroke-width="0.5"/>
<circle cx="550.6" cy="524.0" r="2.7" fill="#e2601a" stroke="#8a3a0c" stroke-width="0.5"/>
<circle cx="572.7" cy="514.4" r="2.7" fill="#e2601a" stroke="#8a3a0c" stroke-width="0.5"/>
<circle cx="594.8" cy="514.4" r="2.7" fill="#e2601a" stroke="#8a3a0c" stroke-width="0.5"/>
<circle cx="616.9" cy="514.4" r="2.7" fill="#e2601a" stroke="#8a3a0c" stroke-width="0.5"/>
</g>
<rect x="490.3" y="537.9" width="127.3" height="29.8" fill="#fff"/>
<line x1="484.3" y1="568.9" x2="484.3" y2="572.4" stroke="#555" stroke-width="0.8"/>
<line x1="506.4" y1="568.9" x2="506.4" y2="572.4" stroke="#555" stroke-width="0.8"/>
<line x1="528.5" y1="568.9" x2="528.5" y2="572.4" stroke="#555" stroke-width="0.8"/>
<line x1="550.6" y1="568.9" x2="550.6" y2="572.4" stroke="#555" stroke-width="0.8"/>
<line x1="572.7" y1="568.9" x2="572.7" y2="572.4" stroke="#555" stroke-width="0.8"/>
<line x1="594.8" y1="568.9" x2="594.8" y2="572.4" stroke="#555" stroke-width="0.8"/>
<line x1="616.9" y1="568.9" x2="616.9" y2="572.4" stroke="#555" stroke-width="0.8"/>
<text x="484.3" y="584.0" text-anchor="middle" font-family="Liberation Sans, sans-serif" font-size="5.4" fill="#555">125</text>
<text x="506.4" y="584.0" text-anchor="middle" font-family="Liberation Sans, sans-serif" font-size="5.4" fill="#555">250</text>
<text x="528.5" y="584.0" text-anchor="middle" font-family="Liberation Sans, sans-serif" font-size="5.4" fill="#555">500</text>
<text x="550.6" y="584.0" text-anchor="middle" font-family="Liberation Sans, sans-serif" font-size="5.4" fill="#555">1000</text>
<text x="572.7" y="584.0" text-anchor="middle" font-family="Liberation Sans, sans-serif" font-size="5.4" fill="#555">2000</text>
<text x="594.8" y="584.0" text-anchor="middle" font-family="Liberation Sans, sans-serif" font-size="5.4" fill="#555">4000</text>
<text x="616.9" y="584.0" text-anchor="middle" font-family="Liberation Sans, sans-serif" font-size="5.4" fill="#555">8000</text>
<text x="502.9" y="557.0" font-family="Liberation Sans, sans-serif" font-size="15.5" fill="#000" stroke="#000" stroke-width="0.28">Average 60 dB</text>
</g>
<g>
<line x1="62.8" y1="21.4" x2="249.9" y2="21.4" stroke="#a8a8a8" stroke-width="1.0"/>
<text x="58.6" y="23.8" text-anchor="end" font-family="Liberation Sans, sans-serif" font-size="6.35" fill="#222" stroke="#222" stroke-width="0.2">5.00</text>
<line x1="62.8" y1="43.5" x2="249.9" y2="43.5" stroke="#a8a8a8" stroke-width="1.0"/>
<text x="58.6" y="45.9" text-anchor="end" font-family="Liberation Sans, sans-serif" font-size="6.35" fill="#222" stroke="#222" stroke-width="0.2">4.00</text>
<line x1="62.8" y1="65.7" x2="249.9" y2="65.7" stroke="#a8a8a8" stroke-width="1.0"/>
<text x="58.6" y="68.1" text-anchor="end" font-family="Liberation Sans, sans-serif" font-size="6.35" fill="#222" stroke="#222" stroke-width="0.2">3.00</text>
<line x1="62.8" y1="87.8" x2="249.9" y2="87.8" stroke="#a8a8a8" stroke-width="1.0"/>
<text x="58.6" y="90.2" text-anchor="end" font-family="Liberation Sans, sans-serif" font-size="6.35" fill="#222" stroke="#222" stroke-width="0.2">2.00</text>
<line x1="62.8" y1="110.0" x2="249.9" y2="110.0" stroke="#a8a8a8" stroke-width="1.0"/>
<text x="58.6" y="112.4" text-anchor="end" font-family="Liberation Sans, sans-serif" font-size="6.35" fill="#222" stroke="#222" stroke-width="0.2">1.00</text>
<line x1="62.8" y1="132.1" x2="249.9" y2="132.1" stroke="#a8a8a8" stroke-width="1.0"/>
<text x="58.6" y="134.5" text-anchor="end" font-family="Liberation Sans, sans-serif" font-size="6.35" fill="#222" stroke="#222" stroke-width="0.2">0.00</text>
<line x1="65.3" y1="21.4" x2="65.3" y2="134.6" stroke="#a8a8a8" stroke-width="1.0"/>
<path d="M65.3 132.1v2.6M69.5 132.1v2.6M73.7 132.1v2.6M77.9 132.1v2.6M82.1 132.1v2.6M86.3 132.1v2.6M90.5 132.1v2.6M94.7 132.1v2.6M98.9 132.1v2.6M103.1 132.1v2.6M107.3 132.1v2.6M111.5 132.1v2.6M115.6 132.1v2.6M119.8 132.1v2.6M124.0 132.1v2.6M128.2 132.1v2.6M132.4 132.1v2.6M136.6 132.1v2.6M140.8 132.1v2.6M145.0 132.1v2.6M149.2 132.1v2.6M153.4 132.1v2.6M157.6 132.1v2.6M161.8 132.1v2.6M166.0 132.1v2.6M170.2 132.1v2.6M174.4 132.1v2.6M178.6 132.1v2.6M182.8 132.1v2.6M187.0 132.1v2.6M191.2 132.1v2.6M195.4 132.1v2.6M199.6 132.1v2.6M203.8 132.1v2.6M207.9 132.1v2.6M212.1 132.1v2.6M216.3 132.1v2.6M220.5 132.1v2.6M224.7 132.1v2.6M228.9 132.1v2.6M233.1 132.1v2.6M237.3 132.1v2.6M241.5 132.1v2.6M245.7 132.1v2.6M249.9 132.1v2.6" stroke="#999" stroke-width="0.8" fill="none"/>
<text transform="translate(69.5,149.7) rotate(-90) scale(0.788,1)" font-family="Liberation Sans, sans-serif" font-size="6.2" font-weight="bold" fill="#3a3a3a">STRC</text>
<text transform="translate(78.1,149.7) rotate(-90) scale(0.788,1)" font-family="Liberation Sans, sans-serif" font-size="6.2" font-weight="bold" fill="#3a3a3a">STRC</text>
<text transform="translate(86.6,149.7) rotate(-90) scale(0.788,1)" font-family="Liberation Sans, sans-serif" font-size="6.2" font-weight="bold" fill="#3a3a3a">STRC</text>
<text transform="translate(95.2,149.7) rotate(-90) scale(0.788,1)" font-family="Liberation Sans, sans-serif" font-size="6.2" font-weight="bold" fill="#3a3a3a">STRC</text>
<text transform="translate(103.8,149.7) rotate(-90) scale(0.788,1)" font-family="Liberation Sans, sans-serif" font-size="6.2" font-weight="bold" fill="#3a3a3a">STRC</text>
<text transform="translate(112.3,149.7) rotate(-90) scale(0.788,1)" font-family="Liberation Sans, sans-serif" font-size="6.2" font-weight="bold" fill="#3a3a3a">STRC</text>
<text transform="translate(120.9,149.7) rotate(-90) scale(0.788,1)" font-family="Liberation Sans, sans-serif" font-size="6.2" font-weight="bold" fill="#3a3a3a">STRC</text>
<text transform="translate(129.5,149.7) rotate(-90) scale(0.788,1)" font-family="Liberation Sans, sans-serif" font-size="6.2" font-weight="bold" fill="#3a3a3a">STRC</text>
<text transform="translate(138.1,149.7) rotate(-90) scale(0.788,1)" font-family="Liberation Sans, sans-serif" font-size="6.2" font-weight="bold" fill="#3a3a3a">STRC</text>
<text transform="translate(146.6,149.7) rotate(-90) scale(0.788,1)" font-family="Liberation Sans, sans-serif" font-size="6.2" font-weight="bold" fill="#3a3a3a">STRC</text>
<text transform="translate(155.2,149.7) rotate(-90) scale(0.788,1)" font-family="Liberation Sans, sans-serif" font-size="6.2" font-weight="bold" fill="#3a3a3a">STRC</text>
<text transform="translate(163.8,149.7) rotate(-90) scale(0.788,1)" font-family="Liberation Sans, sans-serif" font-size="6.2" font-weight="bold" fill="#3a3a3a">STRC</text>
<text transform="translate(172.3,149.7) rotate(-90) scale(0.788,1)" font-family="Liberation Sans, sans-serif" font-size="6.2" font-weight="bold" fill="#3a3a3a">STRC</text>
<text transform="translate(180.9,149.7) rotate(-90) scale(0.788,1)" font-family="Liberation Sans, sans-serif" font-size="6.2" font-weight="bold" fill="#3a3a3a">STRC</text>
<text transform="translate(189.5,149.7) rotate(-90) scale(0.788,1)" font-family="Liberation Sans, sans-serif" font-size="6.2" font-weight="bold" fill="#3a3a3a">STRC</text>
<text transform="translate(198.1,149.7) rotate(-90) scale(0.788,1)" font-family="Liberation Sans, sans-serif" font-size="6.2" font-weight="bold" fill="#3a3a3a">STRC</text>
<text transform="translate(206.6,149.7) rotate(-90) scale(0.788,1)" font-family="Liberation Sans, sans-serif" font-size="6.2" font-weight="bold" fill="#3a3a3a">STRC</text>
<text transform="translate(215.2,149.7) rotate(-90) scale(0.788,1)" font-family="Liberation Sans, sans-serif" font-size="6.2" font-weight="bold" fill="#3a3a3a">STRC</text>
<text transform="translate(223.8,149.7) rotate(-90) scale(0.788,1)" font-family="Liberation Sans, sans-serif" font-size="6.2" font-weight="bold" fill="#3a3a3a">STRC</text>
<text transform="translate(232.3,149.7) rotate(-90) scale(0.788,1)" font-family="Liberation Sans, sans-serif" font-size="6.2" font-weight="bold" fill="#3a3a3a">STRC</text>
<text transform="translate(240.9,149.7) rotate(-90) scale(0.788,1)" font-family="Liberation Sans, sans-serif" font-size="6.2" font-weight="bold" fill="#3a3a3a">STRC</text>
<text transform="translate(249.5,149.7) rotate(-90) scale(0.788,1)" font-family="Liberation Sans, sans-serif" font-size="6.2" font-weight="bold" fill="#3a3a3a">STRC</text>
<polyline points="67.0,96.4 71.4,96.4 75.8,94.6 80.0,109.2 84.2,103.2 88.5,110.3 92.8,112.9 97.1,109.5 101.3,113.2 105.5,103.2 109.8,101.2 114.2,106.2 118.4,105.1 122.8,103.2 127.0,107.3 131.2,106.6 135.5,96.4 139.6,77.8 143.9,97.4 148.0,94.2 152.4,97.4 156.6,101.2 160.8,95.7 165.1,97.8 169.3,96.4 173.7,88.1 177.9,95.7 182.3,98.9 186.5,101.5 190.8,98.9 195.0,93.8 199.4,96.4 203.6,100.0 207.8,97.8 212.2,99.3 216.5,101.5 220.7,80.3 225.1,100.0 229.3,97.8 233.5,97.8 237.8,92.7 242.2,102.2 246.7,94.6" fill="none" stroke="#4a7ebb" stroke-width="1.25" stroke-linejoin="round"/>
<polyline points="75.8,99.7 80.0,102.7 84.2,105.6 88.5,108.5 92.8,109.5 97.1,110.0 101.3,108.8 105.5,107.3 109.8,106.2 114.2,104.1 118.4,104.4 122.8,105.1 127.0,103.7 131.2,98.3 135.5,97.1 139.6,94.9 143.9,92.7 148.0,93.2 152.4,95.7 156.6,97.4 160.8,97.4 165.1,96.4 169.3,94.9 173.7,94.9 177.9,95.7 182.3,96.4 186.5,97.4 190.8,97.8 195.0,97.8 199.4,97.4 203.6,97.1 207.8,98.3 212.2,98.9 216.5,95.9 220.7,95.9 225.1,95.9 229.3,93.9 233.5,98.6 237.8,97.1" fill="none" stroke="#be4b48" stroke-width="2.6" stroke-linejoin="round" stroke-linecap="round"/>
<text x="85.6" y="40.8" font-family="Liberation Sans, sans-serif" font-size="16.9" fill="#000" stroke="#000" stroke-width="0.3">Allele 1: copy loss</text>
</g>
<g>
<line x1="422.2" y1="20.9" x2="617.8" y2="20.9" stroke="#a8a8a8" stroke-width="1.0"/>
<text x="418.7" y="23.3" text-anchor="end" font-family="Liberation Sans, sans-serif" font-size="6.35" fill="#222" stroke="#222" stroke-width="0.2">5.00</text>
<line x1="422.2" y1="43.6" x2="617.8" y2="43.6" stroke="#a8a8a8" stroke-width="1.0"/>
<text x="418.7" y="46.0" text-anchor="end" font-family="Liberation Sans, sans-serif" font-size="6.35" fill="#222" stroke="#222" stroke-width="0.2">4.00</text>
<line x1="422.2" y1="66.3" x2="617.8" y2="66.3" stroke="#a8a8a8" stroke-width="1.0"/>
<text x="418.7" y="68.7" text-anchor="end" font-family="Liberation Sans, sans-serif" font-size="6.35" fill="#222" stroke="#222" stroke-width="0.2">3.00</text>
<line x1="422.2" y1="89.1" x2="617.8" y2="89.1" stroke="#a8a8a8" stroke-width="1.0"/>
<text x="418.7" y="91.5" text-anchor="end" font-family="Liberation Sans, sans-serif" font-size="6.35" fill="#222" stroke="#222" stroke-width="0.2">2.00</text>
<line x1="422.2" y1="111.8" x2="617.8" y2="111.8" stroke="#a8a8a8" stroke-width="1.0"/>
<text x="418.7" y="114.2" text-anchor="end" font-family="Liberation Sans, sans-serif" font-size="6.35" fill="#222" stroke="#222" stroke-width="0.2">1.00</text>
<line x1="422.2" y1="134.5" x2="617.8" y2="134.5" stroke="#a8a8a8" stroke-width="1.0"/>
<text x="418.7" y="136.9" text-anchor="end" font-family="Liberation Sans, sans-serif" font-size="6.35" fill="#222" stroke="#222" stroke-width="0.2">0.00</text>
<line x1="424.7" y1="20.9" x2="424.7" y2="137.0" stroke="#a8a8a8" stroke-width="1.0"/>
<path d="M424.7 134.5v2.6M429.1 134.5v2.6M433.5 134.5v2.6M437.9 134.5v2.6M442.3 134.5v2.6M446.6 134.5v2.6M451.0 134.5v2.6M455.4 134.5v2.6M459.8 134.5v2.6M464.2 134.5v2.6M468.6 134.5v2.6M473.0 134.5v2.6M477.4 134.5v2.6M481.8 134.5v2.6M486.1 134.5v2.6M490.5 134.5v2.6M494.9 134.5v2.6M499.3 134.5v2.6M503.7 134.5v2.6M508.1 134.5v2.6M512.5 134.5v2.6M516.9 134.5v2.6M521.2 134.5v2.6M525.6 134.5v2.6M530.0 134.5v2.6M534.4 134.5v2.6M538.8 134.5v2.6M543.2 134.5v2.6M547.6 134.5v2.6M552.0 134.5v2.6M556.4 134.5v2.6M560.7 134.5v2.6M565.1 134.5v2.6M569.5 134.5v2.6M573.9 134.5v2.6M578.3 134.5v2.6M582.7 134.5v2.6M587.1 134.5v2.6M591.5 134.5v2.6M595.9 134.5v2.6M600.2 134.5v2.6M604.6 134.5v2.6M609.0 134.5v2.6M613.4 134.5v2.6M617.8 134.5v2.6" stroke="#999" stroke-width="0.8" fill="none"/>
<text transform="translate(429.7,152.1) rotate(-90) scale(0.788,1)" font-family="Liberation Sans, sans-serif" font-size="6.2" font-weight="bold" fill="#3a3a3a">STRC</text>
<text transform="translate(438.5,152.1) rotate(-90) scale(0.788,1)" font-family="Liberation Sans, sans-serif" font-size="6.2" font-weight="bold" fill="#3a3a3a">STRC</text>
<text transform="translate(447.3,152.1) rotate(-90) scale(0.788,1)" font-family="Liberation Sans, sans-serif" font-size="6.2" font-weight="bold" fill="#3a3a3a">STRC</text>
<text transform="translate(456.1,152.1) rotate(-90) scale(0.788,1)" font-family="Liberation Sans, sans-serif" font-size="6.2" font-weight="bold" fill="#3a3a3a">STRC</text>
<text transform="translate(464.9,152.1) rotate(-90) scale(0.788,1)" font-family="Liberation Sans, sans-serif" font-size="6.2" font-weight="bold" fill="#3a3a3a">STRC</text>
<text transform="translate(473.7,152.1) rotate(-90) scale(0.788,1)" font-family="Liberation Sans, sans-serif" font-size="6.2" font-weight="bold" fill="#3a3a3a">STRC</text>
<text transform="translate(482.5,152.1) rotate(-90) scale(0.788,1)" font-family="Liberation Sans, sans-serif" font-size="6.2" font-weight="bold" fill="#3a3a3a">STRC</text>
<text transform="translate(491.3,152.1) rotate(-90) scale(0.788,1)" font-family="Liberation Sans, sans-serif" font-size="6.2" font-weight="bold" fill="#3a3a3a">STRC</text>
<text transform="translate(500.1,152.1) rotate(-90) scale(0.788,1)" font-family="Liberation Sans, sans-serif" font-size="6.2" font-weight="bold" fill="#3a3a3a">STRC</text>
<text transform="translate(508.9,152.1) rotate(-90) scale(0.788,1)" font-family="Liberation Sans, sans-serif" font-size="6.2" font-weight="bold" fill="#3a3a3a">STRC</text>
<text transform="translate(517.7,152.1) rotate(-90) scale(0.788,1)" font-family="Liberation Sans, sans-serif" font-size="6.2" font-weight="bold" fill="#3a3a3a">STRC</text>
<text transform="translate(526.5,152.1) rotate(-90) scale(0.788,1)" font-family="Liberation Sans, sans-serif" font-size="6.2" font-weight="bold" fill="#3a3a3a">STRC</text>
<text transform="translate(535.3,152.1) rotate(-90) scale(0.788,1)" font-family="Liberation Sans, sans-serif" font-size="6.2" font-weight="bold" fill="#3a3a3a">STRC</text>
<text transform="translate(544.1,152.1) rotate(-90) scale(0.788,1)" font-family="Liberation Sans, sans-serif" font-size="6.2" font-weight="bold" fill="#3a3a3a">STRC</text>
<text transform="translate(552.9,152.1) rotate(-90) scale(0.788,1)" font-family="Liberation Sans, sans-serif" font-size="6.2" font-weight="bold" fill="#3a3a3a">STRC</text>
<text transform="translate(561.7,152.1) rotate(-90) scale(0.788,1)" font-family="Liberation Sans, sans-serif" font-size="6.2" font-weight="bold" fill="#3a3a3a">STRC</text>
<text transform="translate(570.5,152.1) rotate(-90) scale(0.788,1)" font-family="Liberation Sans, sans-serif" font-size="6.2" font-weight="bold" fill="#3a3a3a">STRC</text>
<text transform="translate(579.3,152.1) rotate(-90) scale(0.788,1)" font-family="Liberation Sans, sans-serif" font-size="6.2" font-weight="bold" fill="#3a3a3a">STRC</text>
<text transform="translate(588.1,152.1) rotate(-90) scale(0.788,1)" font-family="Liberation Sans, sans-serif" font-size="6.2" font-weight="bold" fill="#3a3a3a">STRC</text>
<text transform="translate(596.9,152.1) rotate(-90) scale(0.788,1)" font-family="Liberation Sans, sans-serif" font-size="6.2" font-weight="bold" fill="#3a3a3a">STRC</text>
<text transform="translate(605.7,152.1) rotate(-90) scale(0.788,1)" font-family="Liberation Sans, sans-serif" font-size="6.2" font-weight="bold" fill="#3a3a3a">STRC</text>
<text transform="translate(614.5,152.1) rotate(-90) scale(0.788,1)" font-family="Liberation Sans, sans-serif" font-size="6.2" font-weight="bold" fill="#3a3a3a">STRC</text>
<polyline points="427.6,91.8 432.0,100.5 436.4,89.6 440.7,106.1 445.1,106.4 449.5,108.6 453.9,110.0 458.2,109.7 462.6,112.2 467.0,107.8 471.4,92.2 475.8,106.4 480.1,114.1 484.5,99.8 488.9,108.3 493.4,93.7 497.8,98.4 502.2,110.8 506.7,89.3 511.1,88.1 515.5,91.8 520.0,91.8 524.5,88.4 528.9,85.9 533.2,88.9 537.2,85.9 541.6,90.3 546.1,113.7 550.5,87.4 554.9,84.5 559.5,92.5 563.9,86.7 568.3,89.6 572.7,91.1 577.0,92.5 581.4,95.9 586.1,93.2 590.5,96.6 594.9,90.8 599.2,87.8 603.6,100.5 608.0,88.9 612.4,82.6" fill="none" stroke="#4a7ebb" stroke-width="1.25" stroke-linejoin="round"/>
<polyline points="435.8,98.8 440.4,102.0 444.8,103.9 449.2,107.1 453.6,108.9 458.2,108.9 462.3,105.9 466.7,105.2 471.1,106.1 475.5,103.9 480.1,104.2 484.2,103.9 488.6,102.7 493.0,102.0 497.4,100.1 502.2,96.6 506.9,95.4 511.2,94.0 515.6,90.3 520.0,89.3 524.5,88.9 528.9,87.8 533.2,87.8 537.2,93.2 541.6,93.2 546.1,92.5 550.5,93.7 554.9,92.8 559.5,88.1 563.9,89.3 568.3,90.3 572.7,91.4 577.0,92.5 581.4,94.0 586.1,93.7 590.5,92.8 594.9,93.7 599.2,92.8 603.6,89.6" fill="none" stroke="#be4b48" stroke-width="2.6" stroke-linejoin="round" stroke-linecap="round"/>
<rect x="440.0" y="20.8" width="161.8" height="30.9" fill="#fff" stroke="#ff0000" stroke-width="2"/>
<text x="450.9" y="41.9" font-family="Liberation Sans, sans-serif" font-size="16.9" fill="#000" stroke="#000" stroke-width="0.3">Allele 1: copy loss</text>
</g>
<g>
<line x1="96.3" y1="601.0" x2="288.7" y2="601.0" stroke="#a8a8a8" stroke-width="1.0"/>
<text x="92.7" y="603.4" text-anchor="end" font-family="Liberation Sans, sans-serif" font-size="6.35" fill="#222" stroke="#222" stroke-width="0.2">5.00</text>
<line x1="96.3" y1="623.7" x2="288.7" y2="623.7" stroke="#a8a8a8" stroke-width="1.0"/>
<text x="92.7" y="626.1" text-anchor="end" font-family="Liberation Sans, sans-serif" font-size="6.35" fill="#222" stroke="#222" stroke-width="0.2">4.00</text>
<line x1="96.3" y1="646.4" x2="288.7" y2="646.4" stroke="#a8a8a8" stroke-width="1.0"/>
<text x="92.7" y="648.8" text-anchor="end" font-family="Liberation Sans, sans-serif" font-size="6.35" fill="#222" stroke="#222" stroke-width="0.2">3.00</text>
<line x1="96.3" y1="669.0" x2="288.7" y2="669.0" stroke="#a8a8a8" stroke-width="1.0"/>
<text x="92.7" y="671.4" text-anchor="end" font-family="Liberation Sans, sans-serif" font-size="6.35" fill="#222" stroke="#222" stroke-width="0.2">2.00</text>
<line x1="96.3" y1="691.7" x2="288.7" y2="691.7" stroke="#a8a8a8" stroke-width="1.0"/>
<text x="92.7" y="694.1" text-anchor="end" font-family="Liberation Sans, sans-serif" font-size="6.35" fill="#222" stroke="#222" stroke-width="0.2">1.00</text>
<line x1="96.3" y1="714.4" x2="288.7" y2="714.4" stroke="#a8a8a8" stroke-width="1.0"/>
<text x="92.7" y="716.8" text-anchor="end" font-family="Liberation Sans, sans-serif" font-size="6.35" fill="#222" stroke="#222" stroke-width="0.2">0.00</text>
<line x1="98.8" y1="601.0" x2="98.8" y2="716.9" stroke="#a8a8a8" stroke-width="1.0"/>
<path d="M98.8 714.4v2.6M103.1 714.4v2.6M107.4 714.4v2.6M111.7 714.4v2.6M116.1 714.4v2.6M120.4 714.4v2.6M124.7 714.4v2.6M129.0 714.4v2.6M133.3 714.4v2.6M137.6 714.4v2.6M142.0 714.4v2.6M146.3 714.4v2.6M150.6 714.4v2.6M154.9 714.4v2.6M159.2 714.4v2.6M163.5 714.4v2.6M167.9 714.4v2.6M172.2 714.4v2.6M176.5 714.4v2.6M180.8 714.4v2.6M185.1 714.4v2.6M189.4 714.4v2.6M193.8 714.4v2.6M198.1 714.4v2.6M202.4 714.4v2.6M206.7 714.4v2.6M211.0 714.4v2.6M215.3 714.4v2.6M219.6 714.4v2.6M224.0 714.4v2.6M228.3 714.4v2.6M232.6 714.4v2.6M236.9 714.4v2.6M241.2 714.4v2.6M245.5 714.4v2.6M249.9 714.4v2.6M254.2 714.4v2.6M258.5 714.4v2.6M262.8 714.4v2.6M267.1 714.4v2.6M271.4 714.4v2.6M275.8 714.4v2.6M280.1 714.4v2.6M284.4 714.4v2.6M288.7 714.4v2.6" stroke="#999" stroke-width="0.8" fill="none"/>
<text transform="translate(103.7,732.2) rotate(-90) scale(0.800,1)" font-family="Liberation Sans, sans-serif" font-size="6.2" font-weight="bold" fill="#3a3a3a">STRC</text>
<text transform="translate(112.4,732.2) rotate(-90) scale(0.800,1)" font-family="Liberation Sans, sans-serif" font-size="6.2" font-weight="bold" fill="#3a3a3a">STRC</text>
<text transform="translate(121.1,732.2) rotate(-90) scale(0.800,1)" font-family="Liberation Sans, sans-serif" font-size="6.2" font-weight="bold" fill="#3a3a3a">STRC</text>
<text transform="translate(129.8,732.2) rotate(-90) scale(0.800,1)" font-family="Liberation Sans, sans-serif" font-size="6.2" font-weight="bold" fill="#3a3a3a">STRC</text>
<text transform="translate(138.5,732.2) rotate(-90) scale(0.800,1)" font-family="Liberation Sans, sans-serif" font-size="6.2" font-weight="bold" fill="#3a3a3a">STRC</text>
<text transform="translate(147.2,732.2) rotate(-90) scale(0.800,1)" font-family="Liberation Sans, sans-serif" font-size="6.2" font-weight="bold" fill="#3a3a3a">STRC</text>
<text transform="translate(155.9,732.2) rotate(-90) scale(0.800,1)" font-family="Liberation Sans, sans-serif" font-size="6.2" font-weight="bold" fill="#3a3a3a">STRC</text>
<text transform="translate(164.6,732.2) rotate(-90) scale(0.800,1)" font-family="Liberation Sans, sans-serif" font-size="6.2" font-weight="bold" fill="#3a3a3a">STRC</text>
<text transform="translate(173.3,732.2) rotate(-90) scale(0.800,1)" font-family="Liberation Sans, sans-serif" font-size="6.2" font-weight="bold" fill="#3a3a3a">STRC</text>
<text transform="translate(182.0,732.2) rotate(-90) scale(0.800,1)" font-family="Liberation Sans, sans-serif" font-size="6.2" font-weight="bold" fill="#3a3a3a">STRC</text>
<text transform="translate(190.7,732.2) rotate(-90) scale(0.800,1)" font-family="Liberation Sans, sans-serif" font-size="6.2" font-weight="bold" fill="#3a3a3a">STRC</text>
<text transform="translate(199.4,732.2) rotate(-90) scale(0.800,1)" font-family="Liberation Sans, sans-serif" font-size="6.2" font-weight="bold" fill="#3a3a3a">STRC</text>
<text transform="translate(208.1,732.2) rotate(-90) scale(0.800,1)" font-family="Liberation Sans, sans-serif" font-size="6.2" font-weight="bold" fill="#3a3a3a">STRC</text>
<text transform="translate(216.8,732.2) rotate(-90) scale(0.800,1)" font-family="Liberation Sans, sans-serif" font-size="6.2" font-weight="bold" fill="#3a3a3a">STRC</text>
<text transform="translate(225.5,732.2) rotate(-90) scale(0.800,1)" font-family="Liberation Sans, sans-serif" font-size="6.2" font-weight="bold" fill="#3a3a3a">STRC</text>
<text transform="translate(234.2,732.2) rotate(-90) scale(0.800,1)" font-family="Liberation Sans, sans-serif" font-size="6.2" font-weight="bold" fill="#3a3a3a">STRC</text>
<text transform="translate(242.9,732.2) rotate(-90) scale(0.800,1)" font-family="Liberation Sans, sans-serif" font-size="6.2" font-weight="bold" fill="#3a3a3a">STRC</text>
<text transform="translate(251.6,732.2) rotate(-90) scale(0.800,1)" font-family="Liberation Sans, sans-serif" font-size="6.2" font-weight="bold" fill="#3a3a3a">STRC</text>
<text transform="translate(260.3,732.2) rotate(-90) scale(0.800,1)" font-family="Liberation Sans, sans-serif" font-size="6.2" font-weight="bold" fill="#3a3a3a">STRC</text>
<text transform="translate(269.0,732.2) rotate(-90) scale(0.800,1)" font-family="Liberation Sans, sans-serif" font-size="6.2" font-weight="bold" fill="#3a3a3a">STRC</text>
<text transform="translate(277.7,732.2) rotate(-90) scale(0.800,1)" font-family="Liberation Sans, sans-serif" font-size="6.2" font-weight="bold" fill="#3a3a3a">STRC</text>
<text transform="translate(286.4,732.2) rotate(-90) scale(0.800,1)" font-family="Liberation Sans, sans-serif" font-size="6.2" font-weight="bold" fill="#3a3a3a">STRC</text>
<polyline points="101.1,665.2 105.4,683.6 109.9,666.0 114.4,689.5 118.7,688.7 123.2,690.6 127.4,694.2 131.9,691.2 136.2,691.2 140.7,686.5 145.0,667.7 149.5,688.1 154.0,692.2 158.3,685.0 162.8,685.6 167.1,677.9 171.6,661.9 175.9,679.5 180.4,666.0 184.7,671.7 189.2,663.6 193.5,668.7 198.0,673.4 201.1,670.7 205.5,666.0 209.8,667.7 214.1,667.7 218.4,680.9 222.9,670.7 227.2,673.8 231.5,666.6 235.6,675.8 240.3,666.0 244.6,671.7 248.9,676.2 253.2,649.9 257.3,668.1 261.7,661.9 265.8,673.4 270.5,661.5 275.6,668.7 279.7,669.3 283.8,668.9" fill="none" stroke="#4a7ebb" stroke-width="1.25" stroke-linejoin="round"/>
<polyline points="109.9,678.3 114.4,683.0 118.7,685.6 123.2,690.1 127.4,691.2 131.9,690.6 136.2,686.1 140.7,685.0 145.0,685.0 149.5,684.0 154.0,684.0 158.3,686.1 162.8,680.9 167.1,677.9 171.6,674.2 175.9,671.3 180.4,668.3 184.7,669.7 189.2,669.3 193.5,670.1 198.0,669.3 201.5,669.7 205.5,670.1 210.7,670.7 214.7,671.7 218.8,672.8 222.9,672.2 227.4,673.8 231.5,671.3 235.6,671.3 240.3,670.9 245.0,668.1 249.5,666.8 253.6,666.6 257.7,666.0 261.7,662.6 265.8,666.0 270.9,667.3 275.6,668.7" fill="none" stroke="#be4b48" stroke-width="2.6" stroke-linejoin="round" stroke-linecap="round"/>
<rect x="108.6" y="603.3" width="161.3" height="30.3" fill="#fff" stroke="#ff0000" stroke-width="2"/>
<text x="119.3" y="623.7" font-family="Liberation Sans, sans-serif" font-size="16.9" fill="#000" stroke="#000" stroke-width="0.3">Allele 1: copy loss</text>
</g>
<g>
<line x1="407.2" y1="603.2" x2="597.0" y2="603.2" stroke="#a8a8a8" stroke-width="1.0"/>
<text x="403.0" y="605.6" text-anchor="end" font-family="Liberation Sans, sans-serif" font-size="6.35" fill="#222" stroke="#222" stroke-width="0.2">5.00</text>
<line x1="407.2" y1="625.8" x2="597.0" y2="625.8" stroke="#a8a8a8" stroke-width="1.0"/>
<text x="403.0" y="628.2" text-anchor="end" font-family="Liberation Sans, sans-serif" font-size="6.35" fill="#222" stroke="#222" stroke-width="0.2">4.00</text>
<line x1="407.2" y1="648.3" x2="597.0" y2="648.3" stroke="#a8a8a8" stroke-width="1.0"/>
<text x="403.0" y="650.7" text-anchor="end" font-family="Liberation Sans, sans-serif" font-size="6.35" fill="#222" stroke="#222" stroke-width="0.2">3.00</text>
<line x1="407.2" y1="670.9" x2="597.0" y2="670.9" stroke="#a8a8a8" stroke-width="1.0"/>
<text x="403.0" y="673.3" text-anchor="end" font-family="Liberation Sans, sans-serif" font-size="6.35" fill="#222" stroke="#222" stroke-width="0.2">2.00</text>
<line x1="407.2" y1="693.4" x2="597.0" y2="693.4" stroke="#a8a8a8" stroke-width="1.0"/>
<text x="403.0" y="695.8" text-anchor="end" font-family="Liberation Sans, sans-serif" font-size="6.35" fill="#222" stroke="#222" stroke-width="0.2">1.00</text>
<line x1="407.2" y1="716.0" x2="597.0" y2="716.0" stroke="#a8a8a8" stroke-width="1.0"/>
<text x="403.0" y="718.4" text-anchor="end" font-family="Liberation Sans, sans-serif" font-size="6.35" fill="#222" stroke="#222" stroke-width="0.2">0.00</text>
<line x1="409.7" y1="603.2" x2="409.7" y2="718.5" stroke="#a8a8a8" stroke-width="1.0"/>
<path d="M409.7 716.0v2.6M414.0 716.0v2.6M418.2 716.0v2.6M422.5 716.0v2.6M426.7 716.0v2.6M431.0 716.0v2.6M435.2 716.0v2.6M439.5 716.0v2.6M443.8 716.0v2.6M448.0 716.0v2.6M452.3 716.0v2.6M456.5 716.0v2.6M460.8 716.0v2.6M465.0 716.0v2.6M469.3 716.0v2.6M473.6 716.0v2.6M477.8 716.0v2.6M482.1 716.0v2.6M486.3 716.0v2.6M490.6 716.0v2.6M494.8 716.0v2.6M499.1 716.0v2.6M503.4 716.0v2.6M507.6 716.0v2.6M511.9 716.0v2.6M516.1 716.0v2.6M520.4 716.0v2.6M524.6 716.0v2.6M528.9 716.0v2.6M533.1 716.0v2.6M537.4 716.0v2.6M541.7 716.0v2.6M545.9 716.0v2.6M550.2 716.0v2.6M554.4 716.0v2.6M558.7 716.0v2.6M562.9 716.0v2.6M567.2 716.0v2.6M571.5 716.0v2.6M575.7 716.0v2.6M580.0 716.0v2.6M584.2 716.0v2.6M588.5 716.0v2.6M592.7 716.0v2.6M597.0 716.0v2.6" stroke="#999" stroke-width="0.8" fill="none"/>
<text transform="translate(414.1,734.0) rotate(-90) scale(0.800,1)" font-family="Liberation Sans, sans-serif" font-size="6.2" font-weight="bold" fill="#3a3a3a">STRC</text>
<text transform="translate(422.7,734.0) rotate(-90) scale(0.800,1)" font-family="Liberation Sans, sans-serif" font-size="6.2" font-weight="bold" fill="#3a3a3a">STRC</text>
<text transform="translate(431.3,734.0) rotate(-90) scale(0.800,1)" font-family="Liberation Sans, sans-serif" font-size="6.2" font-weight="bold" fill="#3a3a3a">STRC</text>
<text transform="translate(439.9,734.0) rotate(-90) scale(0.800,1)" font-family="Liberation Sans, sans-serif" font-size="6.2" font-weight="bold" fill="#3a3a3a">STRC</text>
<text transform="translate(448.5,734.0) rotate(-90) scale(0.800,1)" font-family="Liberation Sans, sans-serif" font-size="6.2" font-weight="bold" fill="#3a3a3a">STRC</text>
<text transform="translate(457.1,734.0) rotate(-90) scale(0.800,1)" font-family="Liberation Sans, sans-serif" font-size="6.2" font-weight="bold" fill="#3a3a3a">STRC</text>
<text transform="translate(465.7,734.0) rotate(-90) scale(0.800,1)" font-family="Liberation Sans, sans-serif" font-size="6.2" font-weight="bold" fill="#3a3a3a">STRC</text>
<text transform="translate(474.3,734.0) rotate(-90) scale(0.800,1)" font-family="Liberation Sans, sans-serif" font-size="6.2" font-weight="bold" fill="#3a3a3a">STRC</text>
<text transform="translate(482.9,734.0) rotate(-90) scale(0.800,1)" font-family="Liberation Sans, sans-serif" font-size="6.2" font-weight="bold" fill="#3a3a3a">STRC</text>
<text transform="translate(491.5,734.0) rotate(-90) scale(0.800,1)" font-family="Liberation Sans, sans-serif" font-size="6.2" font-weight="bold" fill="#3a3a3a">STRC</text>
<text transform="translate(500.1,734.0) rotate(-90) scale(0.800,1)" font-family="Liberation Sans, sans-serif" font-size="6.2" font-weight="bold" fill="#3a3a3a">STRC</text>
<text transform="translate(508.7,734.0) rotate(-90) scale(0.800,1)" font-family="Liberation Sans, sans-serif" font-size="6.2" font-weight="bold" fill="#3a3a3a">STRC</text>
<text transform="translate(517.3,734.0) rotate(-90) scale(0.800,1)" font-family="Liberation Sans, sans-serif" font-size="6.2" font-weight="bold" fill="#3a3a3a">STRC</text>
<text transform="translate(525.9,734.0) rotate(-90) scale(0.800,1)" font-family="Liberation Sans, sans-serif" font-size="6.2" font-weight="bold" fill="#3a3a3a">STRC</text>
<text transform="translate(534.5,734.0) rotate(-90) scale(0.800,1)" font-family="Liberation Sans, sans-serif" font-size="6.2" font-weight="bold" fill="#3a3a3a">STRC</text>
<text transform="translate(543.1,734.0) rotate(-90) scale(0.800,1)" font-family="Liberation Sans, sans-serif" font-size="6.2" font-weight="bold" fill="#3a3a3a">STRC</text>
<text transform="translate(551.7,734.0) rotate(-90) scale(0.800,1)" font-family="Liberation Sans, sans-serif" font-size="6.2" font-weight="bold" fill="#3a3a3a">STRC</text>
<text transform="translate(560.3,734.0) rotate(-90) scale(0.800,1)" font-family="Liberation Sans, sans-serif" font-size="6.2" font-weight="bold" fill="#3a3a3a">STRC</text>
<text transform="translate(568.9,734.0) rotate(-90) scale(0.800,1)" font-family="Liberation Sans, sans-serif" font-size="6.2" font-weight="bold" fill="#3a3a3a">STRC</text>
<text transform="translate(577.5,734.0) rotate(-90) scale(0.800,1)" font-family="Liberation Sans, sans-serif" font-size="6.2" font-weight="bold" fill="#3a3a3a">STRC</text>
<text transform="translate(586.1,734.0) rotate(-90) scale(0.800,1)" font-family="Liberation Sans, sans-serif" font-size="6.2" font-weight="bold" fill="#3a3a3a">STRC</text>
<text transform="translate(594.7,734.0) rotate(-90) scale(0.800,1)" font-family="Liberation Sans, sans-serif" font-size="6.2" font-weight="bold" fill="#3a3a3a">STRC</text>
<polyline points="411.6,670.3 415.7,689.3 420.0,668.9 424.3,688.6 428.6,689.3 433.0,692.2 437.4,694.4 441.5,692.7 445.9,694.4 450.3,686.4 454.6,674.0 458.7,692.2 463.1,688.9 467.5,685.7 471.7,688.3 476.1,679.1 480.3,667.0 484.6,665.9 488.9,670.8 493.3,676.6 497.7,672.5 501.8,669.6 506.1,671.8 510.2,674.0 514.6,671.1 519.0,669.6 523.4,672.2 527.7,677.6 531.8,670.8 536.2,670.3 540.4,667.8 544.8,675.1 549.2,675.1 553.6,672.5 558.0,670.0 562.3,682.0 566.7,673.2 571.1,677.6 575.5,671.8 579.6,666.4 583.9,676.6 588.3,671.4 592.7,669.3" fill="none" stroke="#4a7ebb" stroke-width="1.25" stroke-linejoin="round"/>
<polyline points="420.0,681.0 424.3,684.9 428.6,686.4 433.0,690.8 437.4,692.7 441.5,691.5 445.9,688.3 450.3,687.8 454.6,686.8 458.7,685.7 463.1,685.7 467.5,686.4 471.7,682.0 476.1,676.9 480.3,674.0 484.6,671.8 488.9,670.3 493.3,671.1 497.7,672.2 501.8,672.8 506.1,672.2 510.2,671.1 514.6,671.8 519.0,672.8 523.4,672.2 527.7,672.1 531.8,671.8 536.2,672.2 540.4,672.2 544.8,672.1 549.2,672.2 553.6,674.7 558.0,674.0 562.3,674.7 566.7,674.7 571.1,674.0 575.5,672.8 579.6,672.5 583.9,670.8" fill="none" stroke="#be4b48" stroke-width="2.6" stroke-linejoin="round" stroke-linecap="round"/>
<rect x="418.2" y="605.9" width="161.3" height="30.5" fill="#fff" stroke="#ff0000" stroke-width="2"/>
<text x="429.0" y="626.8" font-family="Liberation Sans, sans-serif" font-size="16.9" fill="#000" stroke="#000" stroke-width="0.3">Allele 1: copy loss</text>
</g>
<rect x="7.3" y="158.2" width="292.8" height="30.4" fill="#fff" stroke="#7030a0" stroke-width="2"/>
<text x="19.6" y="179.0" font-family="Liberation Sans, sans-serif" font-size="17.03" fill="#000" stroke="#000" stroke-width="0.3">Allele 2: c.4549del, p.W1517Gfs*19</text>
<rect x="32.7" y="747.3" width="294.1" height="31.1" fill="#fff" stroke="#7030a0" stroke-width="2"/>
<text x="46.6" y="768.6" font-family="Liberation Sans, sans-serif" font-size="17.03" fill="#000" stroke="#000" stroke-width="0.3">Allele 2: c.4549del, p.W1517Gfs*19</text>
<rect x="354.9" y="748.1" width="294.4" height="30.3" fill="#fff" stroke="#7030a0" stroke-width="2"/>
<text x="368.2" y="768.6" font-family="Liberation Sans, sans-serif" font-size="17.03" fill="#000" stroke="#000" stroke-width="0.3">Allele 2: c.4549del, p.W1517Gfs*19</text>
<line x1="0" y1="0.55" x2="5.2" y2="0.55" stroke="#111" stroke-width="2.3"/>
<line x1="0.45" y1="0" x2="0.45" y2="5.8" stroke="#111" stroke-width="2.3"/>
<line x1="6.5" y1="0.55" x2="100.2" y2="0.55" stroke="#111" stroke-width="2.3" stroke-dasharray="6.1 3.10" stroke-dashoffset="7.40"/>
<line x1="100.2" y1="0.55" x2="315.7" y2="0.55" stroke="#111" stroke-width="2.3" stroke-dasharray="6.0 3.94" stroke-dashoffset="9.94"/>
<line x1="0.45" y1="7" x2="0.45" y2="190.3" stroke="#111" stroke-width="2.3" stroke-dasharray="7.0 3.75" stroke-dashoffset="6.85"/>
<line x1="0.45" y1="190.5" x2="0.45" y2="374.3" stroke="#111" stroke-width="2.3" stroke-dasharray="5.4 4.50" stroke-dashoffset="9.60"/>
<line x1="314.9" y1="1.6" x2="314.9" y2="375.8" stroke="#111" stroke-width="1.7" stroke-dasharray="5.9 4.04" stroke-dashoffset="7.44"/>
<line x1="1.5" y1="375.0" x2="315.7" y2="375.0" stroke="#111" stroke-width="1.8" stroke-dasharray="5.9 4.06" stroke-dashoffset="7.26"/>
<line x1="365.2" y1="1.5" x2="371.6" y2="1.5" stroke="#111" stroke-width="1.5"/>
<line x1="365.95" y1="0.8" x2="365.95" y2="4.3" stroke="#111" stroke-width="1.5"/>
<line x1="372" y1="1.5" x2="681" y2="1.5" stroke="#111" stroke-width="1.5" stroke-dasharray="6.0 3.75" stroke-dashoffset="6.45"/>
<line x1="365.95" y1="5" x2="365.95" y2="372.0" stroke="#111" stroke-width="1.5" stroke-dasharray="6.0 4.05" stroke-dashoffset="6.85"/>
<line x1="684.2" y1="7" x2="684.2" y2="375.6" stroke="#111" stroke-width="2.0" stroke-dasharray="5.8 4.16" stroke-dashoffset="5.76"/>
<line x1="684.2" y1="0.6" x2="684.2" y2="6.4" stroke="#111" stroke-width="2.0"/>
<line x1="366.8" y1="374.9" x2="685" y2="374.9" stroke="#111" stroke-width="1.7" stroke-dasharray="6.0 3.91" stroke-dashoffset="9.71"/>
<line x1="22.3" y1="420.0" x2="28.9" y2="420.0" stroke="#111" stroke-width="1.5"/>
<line x1="23.0" y1="419.3" x2="23.0" y2="425.9" stroke="#111" stroke-width="1.5"/>
<line x1="30" y1="420.0" x2="335.7" y2="420.0" stroke="#111" stroke-width="1.5" stroke-dasharray="6.0 3.91" stroke-dashoffset="7.11"/>
<line x1="23.0" y1="427" x2="23.0" y2="786.3" stroke="#111" stroke-width="1.5" stroke-dasharray="6.1 4.05" stroke-dashoffset="7.35"/>
<line x1="335.1" y1="421.5" x2="335.1" y2="786.3" stroke="#111" stroke-width="1.5" stroke-dasharray="6.1 4.05" stroke-dashoffset="9.55"/>
<line x1="24" y1="785.6" x2="336" y2="785.6" stroke="#111" stroke-width="2.4" stroke-dasharray="6.2 3.55" stroke-dashoffset="9.25"/>
<line x1="342.3" y1="421.5" x2="348.9" y2="421.5" stroke="#111" stroke-width="1.5"/>
<line x1="343.1" y1="420.8" x2="343.1" y2="427.4" stroke="#111" stroke-width="1.5"/>
<line x1="350" y1="421.5" x2="661.2" y2="421.5" stroke="#111" stroke-width="1.5" stroke-dasharray="6.0 4.00" stroke-dashoffset="7.20"/>
<line x1="343.1" y1="429" x2="343.1" y2="785.8" stroke="#111" stroke-width="1.5" stroke-dasharray="6.1 4.10" stroke-dashoffset="7.90"/>
<line x1="660.4" y1="423.5" x2="660.4" y2="785.8" stroke="#111" stroke-width="1.5" stroke-dasharray="6.0 4.20" stroke-dashoffset="9.20"/>
<line x1="343.5" y1="785.1" x2="661.2" y2="785.1" stroke="#111" stroke-width="1.5" stroke-dasharray="6.2 3.60" stroke-dashoffset="6.80"/>
<g fill="none" stroke="#000" stroke-width="1.3">
<rect x="188.9" y="197.8" width="34.1" height="33.6" fill="#fff"/>
<circle cx="278.2" cy="214.4" r="17.6" fill="#fff"/>
<path d="M223.3 214.4H260.6M241.8 214.4V273.8M206.9 312.7V273.8H276.3V312.3"/>
<rect x="189.6" y="313.0" width="34.0" height="33.8" fill="#fff"/>
<rect x="258.7" y="312.0" width="35.4" height="34.6" fill="#000" stroke="none"/>
<path d="M294.1 329.4H385.3M340.4 329.4V390M232.5 428.7V390H445.6V428.7M340.3 390L304.2 428.7M340.3 390L375 428.7M325.6 406.2H354.7"/>
<rect x="382.6" y="198.2" width="34.2" height="34.2" fill="#fff"/>
<circle cx="472" cy="215.1" r="17.7" fill="#fff"/>
<path d="M417.1 215.3H454.3M437.2 215.3V273.1M402.7 311.7V273.1H471.7V311.7"/>
<circle cx="403" cy="329.3" r="17.6" fill="#fff"/>
<circle cx="472" cy="329.3" r="17.6" fill="#fff"/>
<circle cx="232.6" cy="446.5" r="17.6" fill="#fff"/>
<circle cx="445.8" cy="446.5" r="17.6" fill="#fff"/>
</g>
<circle cx="402.4" cy="329.4" r="5" fill="#000"/>
<circle cx="304.2" cy="446.5" r="17.9" fill="#000"/>
<circle cx="375.0" cy="446.5" r="17.9" fill="#000"/>
<path d="M275.6 473.0L286.2 460.0M278.5 463.0L286.6 459.5L284.6 468.3" fill="none" stroke="#000" stroke-width="1.8" stroke-linejoin="miter"/>
<text x="248.0" y="366.1" font-family="Liberation Sans, sans-serif" font-size="15.0" letter-spacing="0.42" fill="#000" stroke="#000" stroke-width="0.28">HL1434</text>
<text x="370.9" y="366.5" font-family="Liberation Sans, sans-serif" font-size="15.0" letter-spacing="0.42" fill="#000" stroke="#000" stroke-width="0.28">HL1435</text>
<text x="275.1" y="490.4" font-family="Liberation Sans, sans-serif" font-size="15.0" letter-spacing="0.42" fill="#000" stroke="#000" stroke-width="0.28">HL1432</text>
<text x="351.0" y="490.2" font-family="Liberation Sans, sans-serif" font-size="15.0" letter-spacing="0.42" fill="#000" stroke="#000" stroke-width="0.28">HL1433</text>
</svg></body></html>
